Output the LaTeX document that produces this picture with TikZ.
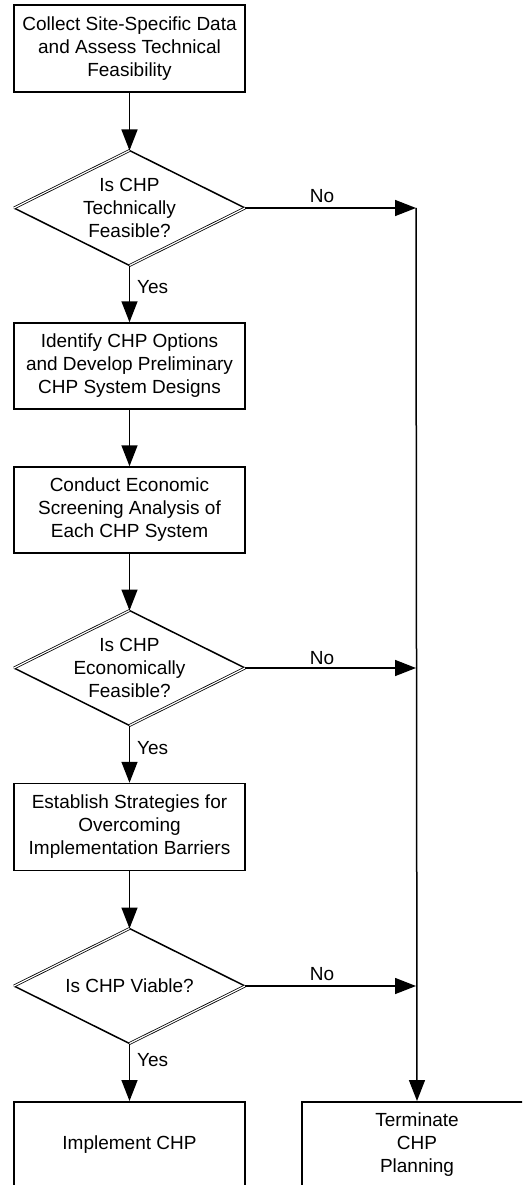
\documentclass[tikz,border=0pt]{standalone}
\usepackage{fontspec}
\setmainfont{Liberation Sans}
\usetikzlibrary{arrows.meta}
\tikzset{
  stepbox/.style={draw, line width=1.5pt, minimum width=231pt, inner sep=0pt, align=center, font=\fontsize{19}{23}\selectfont},
  txt/.style={align=center, inner sep=0pt, font=\fontsize{19}{23}\selectfont},
  lbl/.style={inner sep=0pt, font=\fontsize{19}{23}\selectfont},
  arr/.style={line width=1.5pt, -{Triangle[length=21pt,width=16pt]}},
  ln/.style={line width=1.5pt},
  dbl/.style={double, double distance=1.2pt, line width=0.8pt},
}
\begin{document}
\begin{tikzpicture}[x=1pt,y=-1pt]
\useasboundingbox (0,0) rectangle (522,1185);
\begin{scope}
\clip (0,0) rectangle (522,1185);
% boxes
\node[stepbox, minimum height=87pt] (b1) at (129.5,48.5) {Collect Site-Specific Data\\and Assess Technical\\Feasibility};
\node[stepbox, minimum height=86pt] (b2) at (129.5,366) {Identify CHP Options\\and Develop Preliminary\\CHP System Designs};
\node[stepbox, minimum height=86pt] (b3) at (129.5,510) {Conduct Economic\\Screening Analysis of\\Each CHP System};
\node[stepbox, minimum height=87pt] (b4) at (129.5,827) {Establish Strategies for\\Overcoming\\Implementation Barriers};
\node[draw, line width=1.5pt, minimum width=231pt, minimum height=120pt, anchor=north] (b5) at (129.5,1101) {};
\node[txt] (b5t) at (129.5,1145) {Implement CHP};
\node[draw, line width=1.5pt, minimum width=230pt, minimum height=120pt, anchor=north] (b6) at (417,1101) {};
\node[txt] (b6t) at (417,1145) {Terminate\\CHP\\Planning};

% diamonds
\foreach \n/\cy/\h in {d1/208/57.5, d2/668/57.5, d3/986/57.5}{
  \coordinate (\n t) at (129.5,\cy-\h);
  \coordinate (\n b) at (129.5,\cy+\h);
  \coordinate (\n l) at (14,\cy);
  \coordinate (\n r) at (245,\cy);
  \draw[ln, line join=miter] (\n t) -- (\n r);
  \draw[ln] (\n l) -- (\n b);
  \draw[dbl] (\n l) -- (\n t);
  \draw[dbl] (\n b) -- (\n r);
}
\node[txt] (d1x) at (129.5,208) {Is CHP\\Technically\\Feasible?};
\node[txt] (d2x) at (129.5,668) {Is CHP\\Economically\\Feasible?};
\node[txt] (d3x) at (129.5,986) {Is CHP Viable?};

% right line
\coordinate (r1) at (416,208);
\coordinate (r2) at (416,668);
\coordinate (r3) at (416,986);

% connectors
\draw[arr] (b1.south) -- (d1t);
\draw[arr] (d1b) -- (b2.north);
\draw[arr] (b2.south) -- (b3.north);
\draw[arr] (b3.south) -- (d2t);
\draw[arr] (d2b) -- (b4.north);
\draw[arr] (b4.south) -- (d3t);
\draw[arr] (d3b) -- (b5.north);
\draw[arr] (d1r) -- (r1);
\draw[arr] (d2r) -- (r2);
\draw[arr] (d3r) -- (r3);
\draw[arr] (r1) -- (b6.north);

% labels
\node[lbl, anchor=west] (y1) at (137,287) {Yes};
\node[lbl, anchor=west] (y2) at (137,748) {Yes};
\node[lbl, anchor=west] (y3) at (137,1060) {Yes};
\node[lbl] (n1) at (322,196) {No};
\node[lbl] (n2) at (322,658) {No};
\node[lbl] (n3) at (322,974) {No};
\end{scope}
\end{tikzpicture}
\end{document}
